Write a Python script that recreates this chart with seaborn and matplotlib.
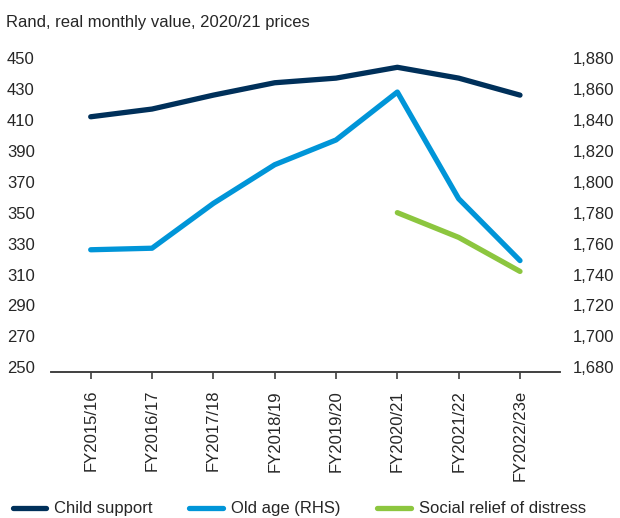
import pandas as pd
import seaborn as sns
import matplotlib.pyplot as plt
from matplotlib.ticker import FuncFormatter

# Chart data
years = ["FY2015/16", "FY2016/17", "FY2017/18", "FY2018/19",
         "FY2019/20", "FY2020/21", "FY2021/22", "FY2022/23e"]
child_support = [412, 417, 426, 434, 437, 444, 437, 426]
old_age = [1756, 1757, 1786, 1811, 1827, 1858, 1789, 1749]
srd_years = ["FY2020/21", "FY2021/22", "FY2022/23e"]
srd = [350, 334, 312]

left_ticks = list(range(250, 451, 20))
right_ticks = list(range(1680, 1881, 20))

navy = "#00305A"
blue = "#0095D8"
green = "#8CC63F"
text_col = "#262626"
fs = 12

sns.set_theme(style="white")
plt.rcParams["font.family"] = ["Liberation Sans", "DejaVu Sans"]

fig = plt.figure(figsize=(6.2, 5.18), dpi=100)
ax = fig.add_axes([0.082, 0.282, 0.821, 0.606])
ax2 = ax.twinx()

# Left axis series
sns.lineplot(x=years, y=child_support, ax=ax, color=navy, lw=3.8,
             solid_capstyle="round", label="Child support")
# Right axis series
sns.lineplot(x=years, y=old_age, ax=ax2, color=blue, lw=3.8,
             solid_capstyle="round", label="Old age (RHS)")
sns.lineplot(x=srd_years, y=srd, ax=ax, color=green, lw=3.8,
             solid_capstyle="round", label="Social relief of distress")

ax.set_xlim(-0.65, 7.65)
ax.set_ylim(247, 450)
ax2.set_ylim(1677, 1880)
ax.set_yticks(left_ticks)
ax2.set_yticks(right_ticks)
ax2.yaxis.set_major_formatter(FuncFormatter(lambda v, p: f"{int(v):,}"))

for a in (ax, ax2):
    for s in ("top", "left", "right"):
        a.spines[s].set_visible(False)
    a.spines["bottom"].set_color("#404040")
    a.spines["bottom"].set_linewidth(1.2)
    a.set_xlabel("")
    a.set_ylabel("")
    a.grid(False)

ax.tick_params(axis="y", length=0, labelsize=fs, labelcolor=text_col, pad=11.5)
ax2.tick_params(axis="y", length=0, labelsize=fs, labelcolor=text_col, pad=9.5)
ax.tick_params(axis="x", bottom=True, direction="out", length=5, width=1.2,
               color="#404040", labelsize=fs, labelcolor=text_col,
               labelrotation=90, pad=8)
ax2.tick_params(axis="x", bottom=False, labelbottom=False)

# Combined legend below the chart
h1, l1 = ax.get_legend_handles_labels()
h2, l2 = ax2.get_legend_handles_labels()
for a in (ax, ax2):
    if a.get_legend():
        a.get_legend().remove()
handles = [h1[0], h2[0], h1[1]]
labels = [l1[0], l2[0], l1[1]]
fig.legend(handles, labels, loc="lower left", bbox_to_anchor=(-0.004, -0.026),
           ncol=3, frameon=False, fontsize=fs, handlelength=2.0,
           handletextpad=0.5, columnspacing=2.2, labelcolor=text_col)

fig.text(0.010, 0.948, "Rand, real monthly value, 2020/21 prices",
         fontsize=fs, color=text_col, va="baseline", ha="left")

fig.savefig("out.png", dpi=100)
